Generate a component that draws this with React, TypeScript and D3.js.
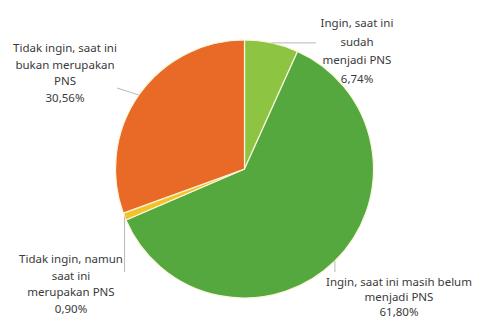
import React from "react";
import * as d3 from "d3";

// Share of respondents by wish / status as PNS (civil servant)
const categories = [
  "Ingin, saat ini sudah menjadi PNS",
  "Ingin, saat ini masih belum menjadi PNS",
  "Tidak ingin, namun saat ini merupakan PNS",
  "Tidak ingin, saat ini bukan merupakan PNS",
];
const values = [6.74, 61.8, 0.9, 30.56];
const valueLabels = ["6,74%", "61,80%", "0,90%", "30,56%"];
const labelLines = [
  ["Ingin, saat ini", "sudah", "menjadi PNS"],
  ["Ingin, saat ini masih belum", "menjadi PNS"],
  ["Tidak ingin, namun", "saat ini", "merupakan PNS"],
  ["Tidak ingin, saat ini", "bukan merupakan", "PNS"],
];
const colors = ["#8dc441", "#55a83e", "#f2c22a", "#e96a27"];

const W = 478;
const H = 320;
const cx = 244.5;
const cy = 169;
const R = 129;

// Label block placement (centre x, first line y, line gap) and leader line end
const labelPos = [
  { x: 357, y: 27, gap: 18.5, lx: 316, ly: 43, mode: "h" },
  { x: 399, y: 285.5, gap: 15.3, lx: 335, ly: 272, mode: "v" },
  { x: 71, y: 263, gap: 16.7, lx: 125, ly: 272, mode: "v" },
  { x: 65, y: 52, gap: 16.7, lx: 117, ly: 88, mode: "p" },
];

export default function App() {
  const pie = d3
    .pie<number>()
    .sort(null)
    .value((d) => d);
  const arcs = pie(values);
  const arc = d3.arc<d3.PieArcDatum<number>>().innerRadius(0).outerRadius(R);

  return (
    <svg
      width={W}
      height={H}
      style={{ position: "absolute", left: 0, top: 0, background: "#fff" }}
      fontFamily="'Noto Sans', sans-serif"
    >
      <g transform={`translate(${cx},${cy})`}>
        {arcs.map((a, i) => (
          <path
            key={categories[i]}
            d={arc(a) || ""}
            fill={colors[i]}
            stroke="#fbf6dc"
            strokeWidth={1.2}
            strokeLinejoin="round"
          />
        ))}
      </g>
      {arcs.map((a, i) => {
        const mid = (a.startAngle + a.endAngle) / 2;
        const px = cx + R * Math.sin(mid);
        const py = cy - R * Math.cos(mid);
        const p = labelPos[i];
        let x2 = p.lx;
        let y2 = p.ly;
        if (p.mode === "h") {
          y2 = py;
        } else if (p.mode === "v") {
          x2 = px;
        }
        return (
          <line
            key={"l" + i}
            x1={px}
            y1={py}
            x2={x2}
            y2={y2}
            stroke="#b8b8b8"
            strokeWidth={1}
          />
        );
      })}
      {labelLines.map((lines, i) => {
        const p = labelPos[i];
        const all = [...lines, valueLabels[i]];
        return (
          <text
            key={"t" + i}
            x={p.x}
            y={p.y}
            textAnchor="middle"
            fontSize={11.5}
            fill="#3a3a3a"
          >
            {all.map((s, j) => (
              <tspan key={j} x={p.x} dy={j === 0 ? 0 : p.gap}>
                {s}
              </tspan>
            ))}
          </text>
        );
      })}
    </svg>
  );
}
